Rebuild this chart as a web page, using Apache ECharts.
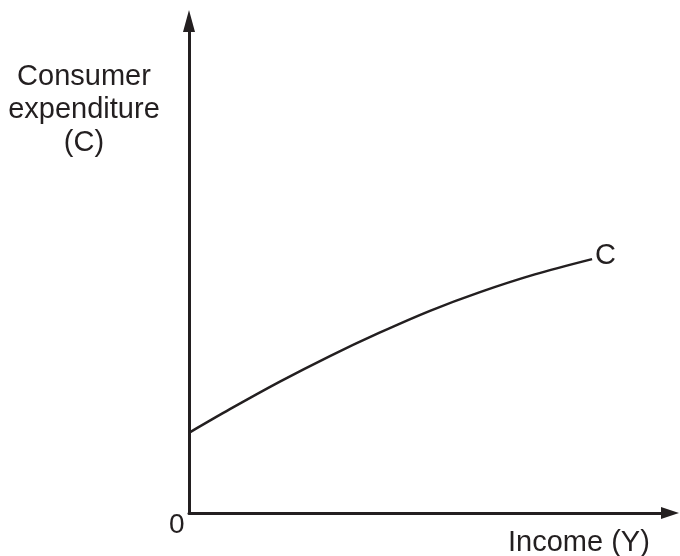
<!DOCTYPE html>
<html>
<head>
<meta charset="utf-8">
<script src="https://cdn.jsdelivr.net/npm/echarts@6/dist/echarts.min.js"></script>
<style>
  html, body { margin: 0; padding: 0; background: #fff; }
  #chart { width: 680px; height: 556px; }
</style>
</head>
<body>
<div id="chart"></div>
<script>
// income (x) and consumer expenditure (y)
const income = [0, 8.5, 18.9, 29.3, 39.5, 50.1, 60.5, 71.9, 83.8];
const consumption = [16.3, 21.1, 26.7, 31.9, 36.6, 41.1, 44.9, 48.5, 51.6];
const yTitle = ["Consumer", "expenditure", "(C)"];
const xTitle = "Income (Y)";
const originLabel = "0";
const curveLabel = "C";

const ink = "#231f20";
const font = "'Liberation Sans', Arial, sans-serif";

const chart = echarts.init(document.getElementById("chart"));

chart.setOption({
  animation: false,
  grid: { left: 189, right: 10, top: 21, bottom: 43 },
  xAxis: {
    type: "value",
    min: 0,
    max: 100,
    axisLine: {
      lineStyle: { color: ink, width: 3 },
      symbol: ["none", "triangle"],
      symbolSize: [12, 18],
    },
    axisTick: { show: false },
    axisLabel: { show: false },
    splitLine: { show: false },
  },
  yAxis: {
    type: "value",
    min: 0,
    max: 100,
    axisLine: {
      show: true,
      lineStyle: { color: ink, width: 3 },
      symbol: ["none", "triangle"],
      symbolSize: [12, 22],
    },
    axisTick: { show: false },
    axisLabel: { show: false },
    splitLine: { show: false },
  },
  series: [
    {
      type: "line",
      data: income.map((x, i) => [x, consumption[i]]),
      smooth: 0.3,
      showSymbol: false,
      lineStyle: { color: ink, width: 2.5 },
      endLabel: {
        show: true,
        formatter: curveLabel,
        color: ink,
        fontFamily: font,
        fontSize: 29,
        distance: 3,
        offset: [0, -3],
      },
    },
  ],
  graphic: [
    {
      type: "text",
      x: 84,
      y: 60,
      style: {
        text: yTitle.join("\n"),
        fill: ink,
        font: "29px " + font,
        align: "center",
        verticalAlign: "top",
        lineHeight: 33,
      },
    },
    {
      type: "text",
      x: 508,
      y: 526,
      style: {
        text: xTitle,
        fill: ink,
        font: "29px " + font,
        verticalAlign: "top",
        lineHeight: 33,
      },
    },
    {
      type: "text",
      x: 169,
      y: 508.5,
      style: {
        text: originLabel,
        fill: ink,
        font: "28px " + font,
        verticalAlign: "top",
        lineHeight: 33,
      },
    },
  ],
});
</script>
</body>
</html>
